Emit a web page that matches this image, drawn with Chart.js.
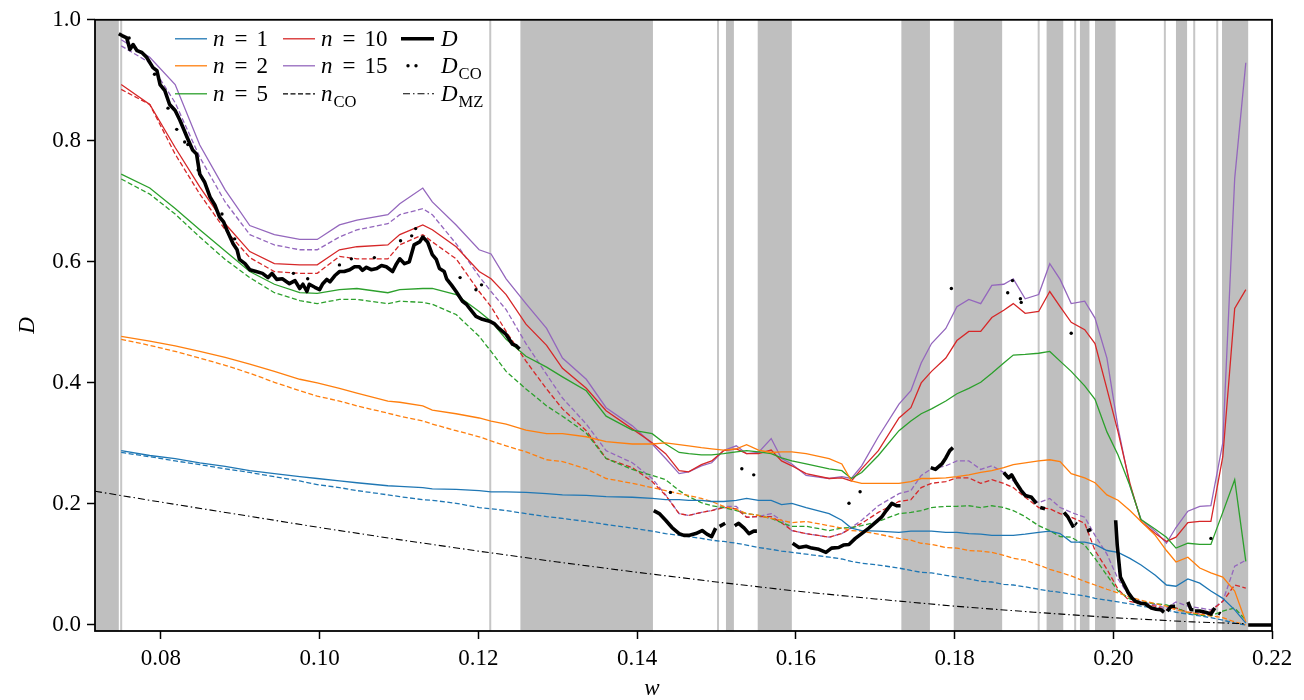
<!DOCTYPE html>
<html>
<head>
<meta charset="utf-8">
<script src="https://cdn.jsdelivr.net/npm/chart.js@4.4.1/dist/chart.umd.min.js"></script>
<style>
  html, body { margin: 0; padding: 0; background: #fff; }
  #marco { width: 1304px; height: 700px; }
</style>
</head>
<body>
<div id="marco"><canvas id="grafico-d" width="1304" height="700"></canvas></div>
<script>
// eje w comun para las curvas n = 1, 2, 5, 10, 15
const wGrid = [0.0750,0.0786,0.0818,0.0849,0.0881,0.0912,0.0943,0.0975,0.0997,0.1025,
  0.1047,0.1086,0.1101,0.1130,0.1142,0.1172,0.1201,0.1216,0.1235,0.1260,
  0.1286,0.1306,0.1336,0.1361,0.1394,0.1419,0.1436,0.1453,0.1465,0.1481,
  0.1494,0.1509,0.1525,0.1538,0.1553,0.1569,0.1582,0.1595,0.1613,0.1642,
  0.1658,0.1670,0.1683,0.1704,0.1730,0.1745,0.1758,0.1771,0.1789,0.1803,
  0.1818,0.1833,0.1847,0.1862,0.1874,0.1889,0.1906,0.1920,0.1933,0.1947,
  0.1964,0.1977,0.1992,0.2006,0.2021,0.2035,0.2053,0.2067,0.2079,0.2094,
  0.2109,0.2123,0.2138,0.2153,0.2167];

const n1 = [0.288,0.280,0.275,0.268,0.262,0.255,0.250,0.245,0.242,0.238,
  0.235,0.230,0.229,0.227,0.225,0.224,0.222,0.220,0.220,0.219,
  0.217,0.215,0.214,0.212,0.211,0.209,0.207,0.207,0.206,0.206,
  0.204,0.204,0.206,0.209,0.206,0.206,0.199,0.201,0.194,0.184,
  0.173,0.160,0.156,0.155,0.153,0.155,0.155,0.155,0.153,0.153,
  0.151,0.150,0.148,0.148,0.148,0.150,0.153,0.155,0.151,0.137,
  0.137,0.133,0.123,0.120,0.110,0.099,0.082,0.066,0.064,0.076,
  0.069,0.056,0.044,0.025,0.003];
const n2 = [0.477,0.469,0.461,0.452,0.442,0.431,0.419,0.406,0.400,0.391,
  0.383,0.370,0.368,0.362,0.355,0.349,0.342,0.337,0.332,0.322,
  0.316,0.316,0.311,0.303,0.299,0.299,0.301,0.298,0.296,0.293,
  0.291,0.289,0.291,0.298,0.289,0.285,0.286,0.286,0.283,0.275,
  0.266,0.238,0.234,0.234,0.234,0.237,0.242,0.242,0.243,0.245,
  0.248,0.252,0.255,0.260,0.265,0.268,0.271,0.273,0.270,0.250,
  0.243,0.235,0.215,0.206,0.189,0.171,0.148,0.123,0.104,0.112,
  0.094,0.086,0.079,0.056,0.005];
const n5 = [0.745,0.722,0.688,0.653,0.618,0.584,0.563,0.549,0.548,0.554,
  0.556,0.549,0.554,0.556,0.556,0.546,0.518,0.502,0.472,0.444,
  0.426,0.410,0.387,0.345,0.322,0.316,0.299,0.285,0.283,0.281,
  0.281,0.283,0.286,0.288,0.286,0.283,0.276,0.271,0.266,0.258,
  0.255,0.242,0.252,0.280,0.321,0.337,0.349,0.357,0.370,0.382,
  0.391,0.401,0.416,0.433,0.446,0.447,0.449,0.452,0.436,0.419,
  0.395,0.373,0.319,0.281,0.230,0.174,0.158,0.145,0.127,0.135,
  0.133,0.133,0.186,0.240,0.105];
const n10 = [0.893,0.860,0.789,0.724,0.663,0.617,0.597,0.595,0.595,0.620,
  0.625,0.628,0.645,0.661,0.653,0.625,0.584,0.572,0.546,0.497,
  0.462,0.424,0.391,0.354,0.324,0.301,0.283,0.255,0.253,0.265,
  0.271,0.288,0.291,0.283,0.283,0.289,0.271,0.263,0.250,0.242,
  0.243,0.238,0.258,0.288,0.342,0.359,0.400,0.419,0.441,0.470,
  0.485,0.485,0.508,0.520,0.531,0.515,0.518,0.551,0.526,0.500,
  0.488,0.465,0.390,0.319,0.234,0.171,0.151,0.138,0.145,0.169,
  0.171,0.171,0.278,0.523,0.554];
const n15 = [0.967,0.938,0.893,0.793,0.719,0.660,0.645,0.637,0.637,0.661,
  0.669,0.678,0.696,0.722,0.699,0.661,0.620,0.613,0.572,0.531,
  0.490,0.441,0.406,0.359,0.329,0.299,0.275,0.250,0.253,0.263,
  0.268,0.288,0.296,0.283,0.285,0.308,0.275,0.266,0.247,0.242,
  0.245,0.242,0.263,0.311,0.365,0.387,0.433,0.465,0.490,0.526,
  0.538,0.531,0.561,0.563,0.572,0.539,0.546,0.597,0.571,0.531,
  0.535,0.507,0.441,0.326,0.230,0.174,0.155,0.135,0.161,0.188,
  0.196,0.197,0.301,0.738,0.929];

// mismas curvas con n_CO (lineas a trazos)
const n1CO = [0.285,0.278,0.271,0.265,0.258,0.252,0.245,0.238,0.232,0.227,
  0.222,0.215,0.212,0.207,0.206,0.201,0.194,0.192,0.189,0.184,
  0.179,0.176,0.171,0.166,0.160,0.155,0.151,0.148,0.146,0.143,
  0.140,0.138,0.135,0.132,0.128,0.125,0.122,0.120,0.117,0.112,
  0.109,0.105,0.102,0.099,0.094,0.090,0.087,0.086,0.082,0.079,
  0.076,0.072,0.071,0.067,0.066,0.063,0.059,0.056,0.054,0.051,
  0.048,0.044,0.041,0.038,0.035,0.031,0.028,0.025,0.021,0.018,
  0.015,0.012,0.008,0.003,0.000];
const n2CO = [0.472,0.462,0.452,0.441,0.429,0.416,0.401,0.387,0.378,0.370,
  0.362,0.350,0.345,0.337,0.332,0.321,0.311,0.304,0.296,0.286,
  0.273,0.270,0.258,0.242,0.234,0.227,0.222,0.217,0.214,0.209,
  0.204,0.196,0.191,0.184,0.181,0.176,0.173,0.169,0.171,0.164,
  0.160,0.156,0.155,0.150,0.143,0.140,0.135,0.133,0.128,0.127,
  0.123,0.122,0.120,0.115,0.110,0.107,0.099,0.092,0.087,0.081,
  0.072,0.066,0.059,0.053,0.046,0.041,0.035,0.031,0.025,0.021,
  0.018,0.015,0.012,0.005,0.000];
const n5CO = [0.737,0.712,0.679,0.641,0.604,0.574,0.549,0.536,0.531,0.538,
  0.538,0.531,0.535,0.533,0.530,0.513,0.477,0.452,0.419,0.390,
  0.362,0.345,0.317,0.275,0.257,0.247,0.240,0.222,0.212,0.202,
  0.197,0.194,0.189,0.184,0.181,0.176,0.169,0.163,0.163,0.156,
  0.160,0.161,0.164,0.171,0.184,0.186,0.189,0.194,0.196,0.196,
  0.197,0.194,0.197,0.194,0.189,0.179,0.164,0.156,0.146,0.145,
  0.132,0.110,0.082,0.056,0.043,0.038,0.035,0.033,0.028,0.020,
  0.016,0.015,0.023,0.028,0.008];
const n10CO = [0.885,0.860,0.778,0.712,0.653,0.607,0.584,0.581,0.581,0.609,
  0.605,0.605,0.628,0.645,0.633,0.605,0.551,0.526,0.485,0.436,
  0.390,0.357,0.321,0.275,0.260,0.237,0.214,0.184,0.181,0.186,
  0.189,0.194,0.192,0.178,0.179,0.179,0.169,0.156,0.151,0.145,
  0.151,0.160,0.168,0.186,0.204,0.207,0.227,0.234,0.237,0.243,
  0.243,0.234,0.240,0.234,0.227,0.211,0.194,0.192,0.184,0.178,
  0.168,0.123,0.092,0.059,0.039,0.035,0.031,0.025,0.028,0.021,
  0.018,0.023,0.039,0.066,0.061];
const n15CO = [0.957,0.929,0.863,0.773,0.699,0.645,0.628,0.620,0.620,0.641,
  0.653,0.663,0.678,0.688,0.678,0.630,0.576,0.551,0.521,0.465,
  0.414,0.375,0.332,0.288,0.268,0.242,0.215,0.184,0.181,0.186,
  0.189,0.196,0.196,0.178,0.179,0.184,0.173,0.156,0.151,0.145,
  0.151,0.161,0.173,0.197,0.217,0.222,0.247,0.258,0.263,0.271,
  0.271,0.257,0.263,0.252,0.238,0.217,0.202,0.209,0.194,0.186,
  0.178,0.148,0.117,0.076,0.046,0.038,0.033,0.028,0.038,0.031,
  0.028,0.025,0.039,0.097,0.107];

// D medido (null = hueco)
const dW = [0.0747,0.0751,0.0757,0.0761,0.0765,0.0770,0.0776,0.0782,0.0790,0.0795,
  0.0799,0.0805,0.0811,0.0818,0.0824,0.0833,0.0840,0.0845,0.0849,0.0855,
  0.0862,0.0868,0.0874,0.0879,0.0883,0.0891,0.0896,0.0899,0.0906,0.0912,
  0.0920,0.0928,0.0935,0.0940,0.0946,0.0953,0.0962,0.0969,0.0975,0.0979,
  0.0984,0.0987,0.0994,0.1000,0.1004,0.1009,0.1013,0.1019,0.1025,0.1031,
  0.1038,0.1044,0.1050,0.1054,0.1059,0.1065,0.1072,0.1078,0.1084,0.1092,
  0.1097,0.1101,0.1107,0.1113,0.1119,0.1126,0.1130,0.1136,0.1142,0.1147,
  0.1151,0.1157,0.1160,0.1166,0.1172,0.1180,0.1185,0.1189,0.1197,0.1205,
  0.1214,0.1220,0.1226,0.1235,0.1243,0.1248,0.1252,null,
  0.1421,0.1428,0.1436,0.1444,0.1453,0.1459,0.1465,0.1474,0.1482,0.1488,0.1494,0.1499,null,
  0.1504,0.1511,null,
  0.1523,0.1528,0.1535,0.1541,0.1547,0.1551,null,
  0.1596,0.1604,0.1613,0.1620,0.1629,0.1638,0.1645,0.1654,0.1660,0.1667,
  0.1675,0.1683,0.1692,0.1699,0.1708,0.1714,0.1721,0.1727,0.1732,null,
  0.1770,0.1776,0.1784,0.1789,0.1794,0.1798,null,
  0.1862,0.1868,0.1872,0.1878,0.1884,0.1889,0.1897,0.1903,null,
  0.1908,0.1914,null,
  0.1938,0.1943,0.1950,null,
  0.1952,0.1954,null,
  0.1967,0.1972,null,
  0.2003,0.2005,0.2009,0.2014,0.2019,0.2024,0.2028,0.2034,0.2040,0.2048,0.2054,0.2060,0.2064,null,
  0.2068,0.2073,0.2078,null,
  0.2094,0.2098,0.2101,null,
  0.2103,0.2109,0.2116,0.2123,0.2128,null,
  0.2133,0.2135,null,
  0.2170,0.2200];
const dV = [0.977,0.974,0.970,0.951,0.959,0.949,0.946,0.938,0.921,0.916,
  0.893,0.883,0.860,0.850,0.834,0.806,0.785,0.778,0.745,0.732,
  0.707,0.694,0.674,0.666,0.653,0.630,0.620,0.604,0.597,0.587,
  0.584,0.581,0.574,0.581,0.571,0.572,0.564,0.569,0.556,0.563,
  0.551,0.563,0.558,0.554,0.564,0.571,0.567,0.577,0.584,0.584,
  0.587,0.592,0.592,0.586,0.591,0.587,0.589,0.594,0.592,0.584,
  0.597,0.605,0.597,0.600,0.628,0.633,0.641,0.633,0.612,0.604,
  0.589,0.584,0.572,0.562,0.551,0.535,0.530,0.523,0.510,0.505,
  0.502,0.498,0.490,0.480,0.464,0.461,0.456,null,
  0.189,0.184,0.173,0.161,0.151,0.148,0.148,0.151,0.156,0.150,0.146,0.160,null,
  0.163,0.168,null,
  0.164,0.168,0.160,0.151,0.155,0.155,null,
  0.135,0.128,0.130,0.127,0.125,0.120,0.127,0.128,0.132,0.133,
  0.143,0.151,0.160,0.168,0.178,0.189,0.201,0.197,0.197,null,
  0.260,0.257,0.266,0.276,0.288,0.293,null,
  0.252,0.243,0.248,0.234,0.222,0.214,0.211,0.201,null,
  0.194,0.192,null,
  0.186,0.178,0.161,null,
  0.168,0.166,null,
  0.155,0.158,null,
  0.173,0.132,0.079,0.066,0.053,0.044,0.039,0.036,0.035,0.028,0.026,0.025,0.021,null,
  0.023,0.031,0.031,null,
  0.038,0.025,0.025,null,
  0.023,0.023,0.021,0.018,0.028,null,
  0.020,0.018,null,
  0.000,0.000];

// D_CO (puntos sueltos)
const dcoW = [0.0760,0.0792,0.0809,0.0820,0.0830,0.0834,0.0847,0.0877,0.0893,0.0967,
  0.0985,0.1025,0.1040,0.1069,0.1102,0.1116,0.1121,0.1177,0.1197,0.1204,
  0.1442,0.1532,0.1547,0.1667,0.1681,0.1796,0.1867,0.1873,0.1883,0.1884,
  0.1947,0.2123];
const dcoV = [0.970,0.910,0.854,0.819,0.798,0.794,0.752,0.679,0.638,0.581,
  0.572,0.595,0.605,0.607,0.635,0.643,0.655,0.574,0.554,0.562,
  0.219,0.258,0.248,0.201,0.220,0.556,0.549,0.569,0.539,0.533,
  0.482,0.143];

// D_MZ
const mzW = [0.0717,0.08,0.09,0.10,0.11,0.12,0.13,0.14,0.15,0.16,0.17,0.18,0.19,0.20,0.21,0.2167];
const mzV = [0.221,0.203,0.182,0.161,0.141,0.122,0.104,0.087,0.071,0.056,0.043,0.031,0.021,0.012,0.005,0.002];

// zonas sombreadas
const bandaDesde = [0.0700,0.1253,0.1512,0.1552,0.1733,0.1799,0.1916,0.1958,0.1977,0.2079,0.2137];
const bandaHasta = [0.0747,0.1420,0.1522,0.1595,0.1769,0.1860,0.1937,0.1970,0.2003,0.2093,0.2170];
const lineasFinas = [0.0750,0.1215,0.1502,0.1906,0.1952,0.2065,0.2102,0.2131];

const ticksX = [0.08,0.10,0.12,0.14,0.16,0.18,0.20,0.22];
const ticksY = [0.0,0.2,0.4,0.6,0.8,1.0];

const colores = { n1: '#1f77b4', n2: '#ff7f0e', n5: '#2ca02c', n10: '#d62728', n15: '#9467bd' };
const FUENTE = '"Liberation Serif", "DejaVu Serif", serif';

function puntos(ws, vs) {
    return ws.map((w, i) => ({ x: w === null ? ws[i - 1] : w, y: vs[i] }));
}

function curva(label, vals, color, trazos) {
    return {
        label: label,
        data: puntos(wGrid, vals),
        borderColor: color,
        borderWidth: 1.3,
        borderDash: trazos ? [5, 2.5] : [],
        pointRadius: 0,
        tension: 0,
        fill: false
    };
}

const datasets = [
    { label: 'D', data: puntos(dW, dV), borderColor: '#000', borderWidth: 3.6, pointRadius: 0,
      tension: 0, spanGaps: false, borderJoinStyle: 'round', borderCapStyle: 'butt' },
    { label: 'D_CO', data: puntos(dcoW, dcoV), showLine: false, pointRadius: 1.7,
      pointBackgroundColor: '#000', pointBorderWidth: 0 },
    { label: 'D_MZ', data: puntos(mzW, mzV), borderColor: '#000', borderWidth: 1.1,
      borderDash: [7, 3, 1.5, 3], pointRadius: 0, tension: 0 },
    curva('n=1', n1, colores.n1, false),
    curva('n=2', n2, colores.n2, false),
    curva('n=5', n5, colores.n5, false),
    curva('n=10', n10, colores.n10, false),
    curva('n=15', n15, colores.n15, false),
    curva('n=1 CO', n1CO, colores.n1, true),
    curva('n=2 CO', n2CO, colores.n2, true),
    curva('n=5 CO', n5CO, colores.n5, true),
    curva('n=10 CO', n10CO, colores.n10, true),
    curva('n=15 CO', n15CO, colores.n15, true)
];

// sombreado de fondo
const pluginFondo = {
    id: 'fondo',
    beforeDatasetsDraw(chart) {
        const ctx = chart.ctx, a = chart.chartArea, x = chart.scales.x;
        ctx.save();
        ctx.beginPath();
        ctx.rect(a.left, a.top, a.right - a.left, a.bottom - a.top);
        ctx.clip();
        ctx.fillStyle = '#bfbfbf';
        bandaDesde.forEach((w0, i) => {
            const x0 = x.getPixelForValue(w0);
            const x1 = x.getPixelForValue(bandaHasta[i]);
            ctx.fillRect(x0, a.top, x1 - x0, a.bottom - a.top);
        });
        ctx.fillStyle = '#c6c6c6';
        lineasFinas.forEach(w => {
            const xp = x.getPixelForValue(w);
            ctx.fillRect(xp - 1, a.top, 2, a.bottom - a.top);
        });
        ctx.restore();
    }
};

function escribir(ctx, x, y, partes, tam) {
    partes.forEach(p => {
        const t = p.sub ? tam * 0.72 : tam;
        ctx.font = (p.it ? 'italic ' : '') + t + 'px ' + FUENTE;
        ctx.fillText(p.t, x + (p.dx || 0), y + (p.sub ? tam * 0.25 : 0));
        x += (p.dx || 0) + ctx.measureText(p.t).width;
    });
}

// marco, leyenda y titulos de ejes
const pluginExtras = {
    id: 'extras',
    afterDatasetsDraw(chart) {
        const ctx = chart.ctx, a = chart.chartArea;
        ctx.save();
        ctx.strokeStyle = '#000';
        ctx.lineWidth = 1.8;
        ctx.strokeRect(a.left, a.top, a.right - a.left, a.bottom - a.top);
        ctx.restore();
    },
    afterDraw(chart) {
        const ctx = chart.ctx, a = chart.chartArea;
        ctx.save();
        ctx.fillStyle = '#000';
        ctx.textBaseline = 'alphabetic';

        const filas = [a.top + 19, a.top + 46, a.top + 74];
        const tam = 23;
        const linea = (x0, x1, y, color, ancho, dash) => {
            ctx.beginPath();
            ctx.setLineDash(dash || []);
            ctx.strokeStyle = color;
            ctx.lineWidth = ancho;
            ctx.moveTo(x0, y);
            ctx.lineTo(x1, y);
            ctx.stroke();
            ctx.setLineDash([]);
        };
        const c1 = a.left + 80, c2 = a.left + 188, c3 = a.left + 306;
        // columna 1
        [['1', colores.n1], ['2', colores.n2], ['5', colores.n5]].forEach((e, i) => {
            linea(c1, c1 + 32, filas[i], e[1], 1.3);
            escribir(ctx, c1 + 38, filas[i] + 7, [{ t: 'n', it: true }, { t: '=', dx: 10 }, { t: e[0], dx: 9 }], tam);
        });
        // columna 2
        [['10', colores.n10], ['15', colores.n15]].forEach((e, i) => {
            linea(c2, c2 + 32, filas[i], e[1], 1.3);
            escribir(ctx, c2 + 38, filas[i] + 7, [{ t: 'n', it: true }, { t: '=', dx: 10 }, { t: e[0], dx: 9 }], tam);
        });
        linea(c2, c2 + 32, filas[2], '#000', 1.3, [5, 2.5]);
        escribir(ctx, c2 + 38, filas[2] + 7, [{ t: 'n', it: true }, { t: 'CO', sub: true, dx: 1 }], tam);
        // columna 3
        linea(c3, c3 + 33, filas[0], '#000', 3.6);
        escribir(ctx, c3 + 40, filas[0] + 7, [{ t: 'D', it: true }], tam);
        ctx.beginPath();
        ctx.arc(c3 + 7, filas[1], 1.7, 0, Math.PI * 2);
        ctx.arc(c3 + 15, filas[1], 1.7, 0, Math.PI * 2);
        ctx.fill();
        escribir(ctx, c3 + 40, filas[1] + 7, [{ t: 'D', it: true }, { t: 'CO', sub: true, dx: 1 }], tam);
        linea(c3 + 2, c3 + 33, filas[2], '#000', 1.1, [7, 3, 1.5, 3]);
        escribir(ctx, c3 + 40, filas[2] + 7, [{ t: 'D', it: true }, { t: 'MZ', sub: true, dx: 1 }], tam);

        // titulos de ejes
        ctx.font = 'italic 23px ' + FUENTE;
        ctx.textAlign = 'center';
        ctx.textBaseline = 'middle';
        ctx.fillText('w', 652, 689);
        ctx.translate(28, (a.top + a.bottom) / 2);
        ctx.rotate(-Math.PI / 2);
        ctx.fillText('D', 0, 0);
        ctx.restore();
    }
};

const ctxD = document.getElementById('grafico-d');
const graficoD = new Chart(ctxD, {
    type: 'line',
    data: { datasets: datasets },
    options: {
        responsive: false,
        animation: false,
        devicePixelRatio: 1,
        layout: { padding: { top: 17, right: 32, left: 0, bottom: 0 } },
        plugins: { legend: { display: false }, tooltip: { enabled: false } },
        scales: {
            x: {
                type: 'linear',
                min: 0.0717,
                max: 0.22,
                afterBuildTicks: s => { s.ticks = ticksX.map(v => ({ value: v })); },
                afterFit: s => { s.height = 69; },
                grid: { drawOnChartArea: false, drawTicks: true, tickLength: 8, tickWidth: 1.5, tickColor: '#000' },
                border: { display: false },
                ticks: { color: '#000', padding: 6, maxRotation: 0,
                         font: { family: FUENTE, size: 23 },
                         callback: v => v.toFixed(2) }
            },
            y: {
                type: 'linear',
                min: -0.01,
                max: 1.0,
                afterBuildTicks: s => { s.ticks = ticksY.map(v => ({ value: v })); },
                afterFit: s => { s.width = 95; },
                grid: { drawOnChartArea: false, drawTicks: true, tickLength: 8, tickWidth: 1.5, tickColor: '#000' },
                border: { display: false },
                ticks: { color: '#000', padding: 6,
                         font: { family: FUENTE, size: 23 },
                         callback: v => v.toFixed(1) }
            }
        }
    },
    plugins: [pluginFondo, pluginExtras]
});
</script>
</body>
</html>
